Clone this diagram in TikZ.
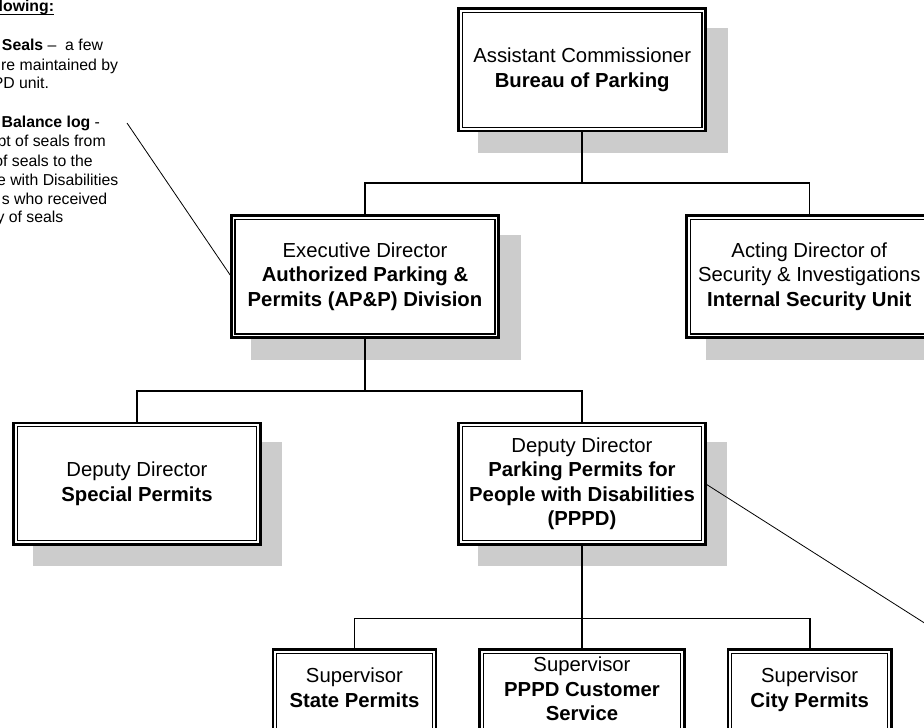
\documentclass[tikz,border=0pt]{standalone}
\usepackage{fontspec}
\setmainfont{Liberation Sans}
\usetikzlibrary{calc}
\pgfdeclarelayer{background}
\pgfsetlayers{background,main}
\definecolor{shadowgray}{HTML}{CCCCCC}
\begin{document}
\begin{tikzpicture}[x=1pt,y=-1pt,
  orgbox/.style={draw=black, line width=2.6pt, fill=white, outer sep=0pt, inner sep=0pt,
    align=center, font=\fontsize{20.3}{24.5}\selectfont},
  conn/.style={draw=black, line width=1.6pt},
  noteline/.style={draw=black, line width=0.8pt},
  notetext/.style={inner sep=0pt, outer sep=0pt, anchor=base east, font=\fontsize{15.8}{19}\selectfont}
]
\useasboundingbox (0,0) rectangle (924,728);

% boxes
\node[orgbox, minimum width=247.1pt, minimum height=122.4pt] (AC) at (582.2,69.8)
  {Assistant Commissioner\\\textbf{Bureau of Parking}};
\node[orgbox, minimum width=267.4pt, minimum height=122.1pt] (ED) at (365,276.7)
  {Executive Director\\\textbf{Authorized Parking \&}\\\textbf{Permits (AP\&P) Division}};
\node[orgbox, minimum width=245.4pt, minimum height=122.1pt] (AD) at (809.3,276.7)
  {Acting Director of\\Security \& Investigations\\\textbf{Internal Security Unit}};
\node[orgbox, minimum width=246.8pt, minimum height=121.4pt] (SP) at (137,483.7)
  {Deputy Director\\\textbf{Special Permits}};
\node[orgbox, minimum width=246.8pt, minimum height=121.4pt] (PP) at (582,483.7)
  {Deputy Director\\\textbf{Parking Permits for}\\\textbf{People with Disabilities}\\\textbf{(PPPD)}};
\node[orgbox, minimum width=163pt, minimum height=97.4pt, text depth=21pt] (SS) at (354.5,698.3)
  {Supervisor\\\textbf{State Permits}};
\node[orgbox, minimum width=204.8pt, minimum height=97.4pt, text depth=19pt] (CS) at (582,698.3)
  {Supervisor\\\textbf{PPPD Customer}\\\textbf{Service}};
\node[orgbox, minimum width=163.4pt, minimum height=97.4pt, text depth=21pt] (CT) at (809.7,698.3)
  {Supervisor\\\textbf{City Permits}};

% inner border lines
\foreach \n in {AC,ED,AD,SP,PP,SS,CS,CT}{
  \draw[line width=1.3pt] ([shift={(3.7pt,3.7pt)}]\n.south west) rectangle ([shift={(-3.7pt,-3.7pt)}]\n.north east);
}

% shadows (upper three levels only; the bottom row shows none)
\begin{pgfonlayer}{background}
\foreach \n in {AC,ED,AD,SP,PP}{
  \fill[shadowgray] ([shift={(19.2pt,-21.8pt)}]\n.south west) rectangle ([shift={(21.8pt,-19.2pt)}]\n.north east);
}
\end{pgfonlayer}

% bus coordinates
\coordinate (bus1) at (582.2,183);
\coordinate (bus2) at (365,391);
\coordinate (bus3) at (582,618.3);

% connectors
\draw[conn] (AC.south) -- (AC.south |- bus1) -| (ED.north);
\draw[conn] (AC.south |- bus1) -| (AD.north);
\draw[conn] (ED.south) -- (ED.south |- bus2) -| (SP.north);
\draw[conn] (ED.south |- bus2) -| (PP.north);
\draw[conn] (PP.south) -- (PP.south |- bus3) -| (SS.north);
\draw[conn] (PP.south |- bus3) -- (CS.north);
\draw[conn] (PP.south |- bus3) -| (CT.north);

% annotation text (cut at left edge)
\node[notetext] (t1) at (54,11.7) {\textbf{llowing:}};
\draw[line width=1.1pt] ([yshift=-2.4pt]t1.base west) -- ([yshift=-2.4pt]t1.base east);
\node[notetext] (t2) at (103,50.7) {\textbf{Seals} –\ \ a few};
\node[notetext] (t3) at (118,70) {re maintained by};
\node[notetext] (t4) at (49,88.3) {PD unit.};
\node[notetext] (t5) at (100,127.7) {\textbf{Balance log} -};
\node[notetext] (t6) at (105.7,146.7) {pt of seals from};
\node[notetext] (t7) at (92.7,166) {of seals to the};
\node[notetext] (t8) at (118.3,185) {e with Disabilities};
\node[notetext] (t9) at (107.3,204) {s who received};
\node[notetext] (t10) at (63.3,222.7) {y of seals};

% annotation pointer lines
\coordinate (n1) at (127,123);
\coordinate (n2) at (930,626.5);
\draw[noteline] (n1) -- (ED.west);
\draw[noteline] (PP.east) -- (n2);
\end{tikzpicture}
\end{document}
